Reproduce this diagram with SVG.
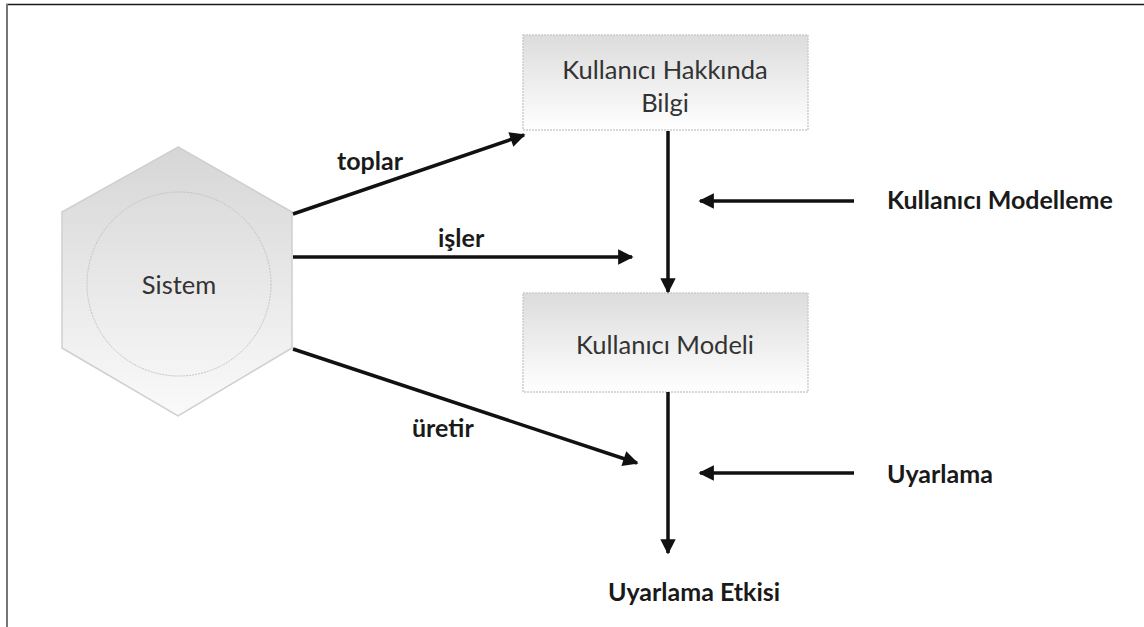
<svg xmlns="http://www.w3.org/2000/svg" width="1144" height="627" viewBox="0 0 1144 627">
<defs>
<linearGradient id="gBox" x1="0" y1="0" x2="0" y2="1">
<stop offset="0" stop-color="#dcdcdc"/>
<stop offset="1" stop-color="#ffffff"/>
</linearGradient>
<linearGradient id="gHex" x1="0" y1="0" x2="0" y2="1">
<stop offset="0" stop-color="#d6d6d6"/>
<stop offset="1" stop-color="#fafafa"/>
</linearGradient>
<marker id="ah" viewBox="0 0 10 10" refX="9" refY="5" markerWidth="5" markerHeight="4.4" orient="auto" markerUnits="strokeWidth">
<path d="M0,0 L10,5 L0,10 Z" fill="#111"/>
</marker>
<style>
.box{fill:url(#gBox);stroke:#cdcdcd;stroke-width:1.5;stroke-dasharray:2 1}
.lbl{font-family:Lato,"Open Sans",sans-serif;font-size:25.5px;fill:#333;text-anchor:middle}
.bold{font-family:Lato,"Open Sans",sans-serif;font-size:25px;font-weight:bold;fill:#1a1a1a}
.conn{stroke:#111;stroke-width:3.5;fill:none;marker-end:url(#ah)}
</style>
</defs>
<rect width="1144" height="627" fill="#fff"/>
<line x1="6" y1="4.5" x2="1144" y2="4.5" stroke="#1a1a1a" stroke-width="1.5"/>
<line x1="7" y1="4" x2="7" y2="627" stroke="#777" stroke-width="2"/>
<g id="sistem">
<polygon points="178,147 292,212 292,348 178,416 62,348 62,212" fill="url(#gHex)" stroke="#cfcfcf" stroke-width="1.5"/>
<circle cx="179" cy="284" r="92" fill="none" stroke="#c4c4c4" stroke-width="1" stroke-dasharray="2 1"/>
<text class="lbl" x="179" y="294">Sistem</text>
</g>
<g id="bilgi">
<rect class="box" x="523" y="35" width="285" height="95"/>
<text class="lbl" x="665" y="79">Kullanıcı Hakkında</text>
<text class="lbl" x="665" y="112">Bilgi</text>
</g>
<g id="model">
<rect class="box" x="523" y="293" width="285" height="99"/>
<text class="lbl" x="665" y="354">Kullanıcı Modeli</text>
</g>
<g id="modelleme">
<text class="bold" x="887" y="209">Kullanıcı Modelleme</text>
</g>
<g id="uyarlama">
<text class="bold" x="887" y="483">Uyarlama</text>
</g>
<g id="etki">
<text class="bold" x="608" y="601">Uyarlama Etkisi</text>
</g>
<g id="connectors">
<line class="conn" x1="293" y1="214" x2="524" y2="135"/>
<line class="conn" x1="293" y1="257" x2="632" y2="257"/>
<line class="conn" x1="293" y1="349" x2="637" y2="463"/>
<line class="conn" x1="668" y1="131" x2="668" y2="292"/>
<line class="conn" x1="668" y1="392" x2="668" y2="553"/>
<line class="conn" x1="854" y1="201" x2="700" y2="201"/>
<line class="conn" x1="854" y1="473" x2="700" y2="473"/>
<text class="bold" x="337" y="170">toplar</text>
<text class="bold" x="438" y="247">işler</text>
<text class="bold" x="412" y="437">üretir</text>
</g>
</svg>
